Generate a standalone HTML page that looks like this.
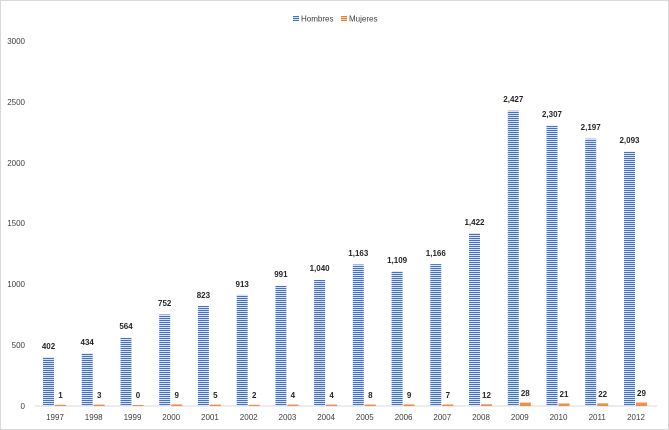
<!DOCTYPE html>
<html><head><meta charset="utf-8"><style>
html,body{margin:0;padding:0;background:#fff}
svg{display:block;font-family:"Liberation Sans",sans-serif}
</style></head><body>
<svg width="669" height="430" viewBox="0 0 669 430">
<defs>
<pattern id="hb" width="4" height="2" patternUnits="userSpaceOnUse">
<rect width="4" height="2" fill="#ffffff"/><rect width="4" height="1.2" fill="#4472c4"/>
</pattern>
<pattern id="mu" width="4" height="2" patternUnits="userSpaceOnUse">
<rect width="4" height="2" fill="#fbe0c8"/><rect width="4" height="1.2" fill="#ed7d31"/>
</pattern>
</defs>
<rect x="0.5" y="0.5" width="668" height="429" fill="#fff" stroke="#d9d9d9"/>
<rect x="293" y="16" width="6" height="5" fill="url(#hb)"/>
<text x="301" y="21.5" font-size="8" fill="#404040">Hombres</text>
<rect x="341" y="16" width="6" height="5" fill="url(#mu)"/>
<text x="349" y="21.5" font-size="8" fill="#404040">Mujeres</text>
<g font-size="8" fill="#404040" text-anchor="end">
<text x="25" y="44">3000</text>
<text x="25" y="105">2500</text>
<text x="25" y="166">2000</text>
<text x="25" y="226">1500</text>
<text x="25" y="287">1000</text>
<text x="25" y="348">500</text>
<text x="25" y="409">0</text>
</g>
<line x1="35" y1="406" x2="657" y2="406" stroke="#d9d9d9" stroke-width="1"/>
<g fill="url(#hb)">
<rect x="43" y="357.1" width="11" height="48.9"/>
<rect x="81.7" y="353.2" width="11" height="52.8"/>
<rect x="120.5" y="337.4" width="11" height="68.6"/>
<rect x="159.2" y="314.5" width="11" height="91.5"/>
<rect x="197.9" y="305.9" width="11" height="100.1"/>
<rect x="236.7" y="294.9" width="11" height="111.1"/>
<rect x="275.4" y="285.4" width="11" height="120.6"/>
<rect x="314.1" y="279.5" width="11" height="126.5"/>
<rect x="352.8" y="264.5" width="11" height="141.5"/>
<rect x="391.6" y="271.1" width="11" height="134.9"/>
<rect x="430.3" y="264.1" width="11" height="141.9"/>
<rect x="469" y="233" width="11" height="173"/>
<rect x="507.8" y="110.7" width="11" height="295.3"/>
<rect x="546.5" y="125.3" width="11" height="280.7"/>
<rect x="585.2" y="138.7" width="11" height="267.3"/>
<rect x="624" y="151.3" width="11" height="254.7"/>
</g>
<g fill="#ed7d31" opacity="0.85">
<rect x="55" y="404.8" width="11" height="1.2"/>
<rect x="93.7" y="404.6" width="11" height="1.4"/>
<rect x="132.5" y="405" width="11" height="1"/>
<rect x="171.2" y="404.4" width="11" height="1.6"/>
<rect x="209.9" y="404.6" width="11" height="1.4"/>
<rect x="248.7" y="404.8" width="11" height="1.2"/>
<rect x="287.4" y="404.6" width="11" height="1.4"/>
<rect x="326.1" y="404.6" width="11" height="1.4"/>
<rect x="364.8" y="404.5" width="11" height="1.5"/>
<rect x="403.6" y="404.4" width="11" height="1.6"/>
<rect x="442.3" y="404.5" width="11" height="1.5"/>
<rect x="481" y="404.3" width="11" height="1.7"/>
<rect x="519.8" y="402.6" width="11" height="3.4"/>
<rect x="558.5" y="403.4" width="11" height="2.6"/>
<rect x="597.2" y="403.3" width="11" height="2.7"/>
<rect x="636" y="402.5" width="11" height="3.5"/>
</g>
<g font-size="8" font-weight="bold" fill="#262626" text-anchor="middle">
<text x="48.5" y="349">402</text>
<text x="87.2" y="345">434</text>
<text x="126" y="329">564</text>
<text x="164.7" y="306">752</text>
<text x="203.4" y="298">823</text>
<text x="242.2" y="287">913</text>
<text x="280.9" y="277">991</text>
<text x="319.6" y="271">1,040</text>
<text x="358.3" y="256">1,163</text>
<text x="397.1" y="263">1,109</text>
<text x="435.8" y="256">1,166</text>
<text x="474.5" y="225">1,422</text>
<text x="513.3" y="102">2,427</text>
<text x="552" y="117">2,307</text>
<text x="590.7" y="130">2,197</text>
<text x="629.5" y="143">2,093</text>
<text x="60.5" y="398">1</text>
<text x="99.2" y="398">3</text>
<text x="138" y="398">0</text>
<text x="176.7" y="398">9</text>
<text x="215.4" y="398">5</text>
<text x="254.2" y="398">2</text>
<text x="292.9" y="398">4</text>
<text x="331.6" y="398">4</text>
<text x="370.3" y="398">8</text>
<text x="409.1" y="398">9</text>
<text x="447.8" y="398">7</text>
<text x="486.5" y="398">12</text>
<text x="525.3" y="396">28</text>
<text x="564" y="397">21</text>
<text x="602.7" y="397">22</text>
<text x="641.5" y="396">29</text>
</g>
<g font-size="8" fill="#404040" text-anchor="middle">
<text x="55" y="420">1997</text>
<text x="93.7" y="420">1998</text>
<text x="132.5" y="420">1999</text>
<text x="171.2" y="420">2000</text>
<text x="209.9" y="420">2001</text>
<text x="248.7" y="420">2002</text>
<text x="287.4" y="420">2003</text>
<text x="326.1" y="420">2004</text>
<text x="364.8" y="420">2005</text>
<text x="403.6" y="420">2006</text>
<text x="442.3" y="420">2007</text>
<text x="481" y="420">2008</text>
<text x="519.8" y="420">2009</text>
<text x="558.5" y="420">2010</text>
<text x="597.2" y="420">2011</text>
<text x="636" y="420">2012</text>
</g>
</svg>
</body></html>
